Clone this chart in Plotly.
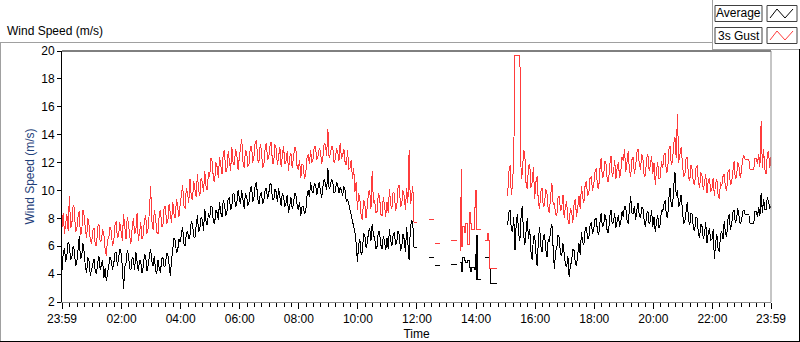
import pandas as pd
import plotly.graph_objects as go

# ---------------- data (2.5-minute samples from 23:59) ----------------
START = "2024-01-01 23:59"
STEP = "150s"

gust_main = [
    7.4, 8.4, 6.9, 7.8, 8.3, 7.1, 9.6, 7.3, 7.6, 8.9, 8.8, 7.0, 7.2, 8.1, 8.5, 6.8, 7.0, 8.6, 8.2, 7.2, 6.6, 8.0, 7.5, 6.4,            # 23:59
    6.2, 7.1, 7.3, 6.1, 6.0, 7.4, 7.6, 6.3, 6.4, 7.2, 6.9, 5.8, 5.3, 6.5, 6.6, 7.4, 7.1, 6.0, 6.3, 7.5, 7.8, 6.6, 6.8, 7.7,            # 00:59
    7.0, 6.4, 8.3, 7.2, 6.5, 8.1, 7.6, 6.7, 6.2, 7.3, 8.0, 6.9, 7.1, 8.4, 6.4, 7.0, 7.7, 6.5, 6.8, 7.9, 8.2, 6.9, 7.3, 8.5,            # 01:59
    10.3, 7.8, 7.2, 8.6, 8.1, 7.0, 6.9, 8.3, 8.6, 7.4, 7.5, 8.8, 8.9, 7.6, 7.8, 9.0, 8.4, 7.7, 9.2, 8.3, 8.0, 9.4, 8.8, 8.1,           # 02:59
    9.0, 9.9, 10.4, 8.9, 8.7, 10.2, 9.8, 9.1, 10.8, 9.6, 9.3, 10.7, 10.1, 9.5, 11.2, 10.0, 9.6, 10.9, 10.6, 9.9, 11.4, 10.3, 10.0, 11.3,  # 03:59
    11.0, 12.3, 12.1, 10.8, 10.6, 12.0, 11.7, 10.9, 12.4, 11.6, 11.2, 12.7, 12.9, 11.3, 11.5, 12.8, 12.2, 11.4, 13.1, 12.0, 11.8, 13.0, 12.6, 11.5,  # 04:59
    12.3, 13.0, 13.7, 12.1, 11.6, 12.9, 12.8, 11.7, 11.9, 13.1, 13.2, 12.0, 12.5, 13.5, 13.6, 12.2, 12.0, 13.3, 12.9, 11.6, 11.8, 13.0, 13.4, 12.2,  # 05:59
    12.4, 13.2, 13.5, 11.9, 12.0, 13.3, 13.0, 11.8, 12.6, 13.1, 11.7, 12.5, 13.2, 11.9, 12.1, 12.8, 11.4, 12.4, 12.7, 11.6, 12.2, 13.1, 13.0, 11.7,  # 06:59
    11.5, 12.2, 10.9, 11.9, 11.8, 10.8, 11.2, 12.3, 12.6, 11.9, 12.9, 12.0, 12.3, 13.2, 13.1, 12.2, 12.5, 13.0, 12.8, 11.9, 12.4, 13.4, 13.3, 12.5,  # 07:59
    14.4, 12.3, 12.6, 13.2, 13.1, 12.0, 12.2, 13.0, 12.8, 12.1, 13.4, 12.3, 12.5, 13.0, 12.0, 11.8, 12.9, 11.5, 11.6, 12.2, 10.8, 11.6, 9.9, 10.6,  # 08:59
    8.6, 9.8, 9.4, 8.2, 7.9, 9.3, 9.1, 8.0, 8.8, 9.9, 10.0, 8.7, 11.4, 9.1, 9.3, 8.4, 8.5, 9.8, 9.6, 8.3, 8.2, 9.5, 9.0, 8.1,          # 09:59
    9.2, 8.4, 10.1, 9.0, 8.7, 9.9, 9.8, 8.5, 8.9, 10.2, 10.4, 8.8, 9.0, 10.0, 9.6, 8.6, 10.2, 9.1, 12.9, 9.0, 9.5, 10.3, 7.7, 7.7,      # 10:59
    7.7, None, None, None, None, None, None, None, None, None, None, None,
    None, None, None, None, None, None, None, None, None, None, None, None,                                                        # 11:59
    None, None, None, None, None, None, None, None, None, None, None, None,
    None, None, None, None, None, None, None, None, None, None, None, None,                                                        # 12:59
    None, None, None, None, None, None, None, None, None, None, None, None,
    None, None, None, None, None, None, None, None, None, None, None, None,                                                        # 13:59
    None, None, 9.6, 11.3, 11.8, 9.7, 10.4, 12.2, 19.7, 19.7, 19.7, 19.7, 19.7, 10.8, 11.2, 12.9, 12.6, 10.5, 10.1, 11.8, 11.9, 10.2, 10.6, 11.7,  # 14:59
    9.4, 10.6, 11.0, 9.1, 8.7, 9.9, 10.2, 8.8, 9.0, 10.1, 9.8, 8.6, 8.4, 9.7, 10.5, 9.0, 9.1, 8.3, 8.2, 9.5, 9.6, 8.5, 8.8, 9.7,       # 15:59
    8.0, 8.9, 9.2, 7.9, 7.6, 8.7, 8.5, 7.7, 9.0, 9.4, 8.1, 8.8, 9.6, 8.7, 10.3, 9.5, 9.1, 10.4, 10.7, 9.6, 9.8, 10.9, 11.0, 10.0,      # 16:59
    10.4, 11.3, 11.6, 10.3, 10.1, 11.5, 12.3, 10.9, 11.0, 12.1, 11.9, 10.7, 10.6, 11.8, 12.5, 11.0, 11.3, 12.2, 10.8, 11.6, 12.0, 10.9, 11.4, 12.4,  # 17:59
    12.1, 13.0, 11.3, 12.0, 12.8, 11.4, 11.0, 12.2, 12.4, 11.2, 11.7, 12.7, 13.0, 11.9, 11.5, 12.6, 12.2, 11.0, 11.1, 12.3, 12.6, 11.4, 11.8, 12.5,  # 18:59
    11.2, 12.0, 10.4, 11.5, 12.0, 10.8, 10.9, 12.1, 11.6, 12.5, 12.7, 11.3, 11.4, 12.9, 13.2, 11.8, 12.1, 13.4, 13.8, 12.3, 15.5, 12.0, 12.6, 13.1,  # 19:59
    12.0, 11.0, 11.1, 12.3, 12.4, 10.9, 10.7, 11.8, 11.5, 10.5, 10.4, 11.6, 11.8, 10.6, 10.2, 11.3, 11.0, 10.0, 10.6, 11.2, 9.8, 10.7, 10.9, 9.9,  # 20:59
    10.1, 10.9, 9.6, 10.5, 10.8, 9.7, 9.4, 10.6, 10.3, 11.0, 11.2, 10.2, 10.0, 11.3, 11.5, 10.4, 10.6, 11.6, 12.1, 10.8, 11.0, 12.0, 11.7, 10.9,  # 21:59
    11.4, 12.3, 12.5, 12.2, 12.2, 12.2, 12.2, 11.5, 11.5, 11.5, 11.5, 12.3, 12.3, 11.9, 12.6, 11.7, 15.0, 11.6, 13.0, 11.5, 11.2, 12.6, 12.8, 11.6,  # 22:59
    12.4,                                                                                                                          # 23:59
]

avg_main = [
    4.3, 5.5, 5.9, 4.9, 5.4, 6.3, 6.1, 5.0, 5.2, 6.0, 5.7, 4.6, 4.8, 6.0, 6.7, 5.1, 5.3, 6.2, 5.6, 4.5, 4.1, 5.2, 4.9, 3.9,
    4.4, 4.9, 5.1, 4.2, 4.0, 4.8, 5.3, 4.3, 4.6, 5.0, 3.7, 4.4, 3.5, 4.1, 4.5, 5.2, 5.0, 4.3, 4.7, 5.5, 5.6, 4.6, 5.2, 5.8,
    5.5, 4.6, 2.9, 4.5, 4.8, 5.7, 5.4, 4.4, 4.3, 5.2, 5.1, 4.3, 5.6, 4.7, 4.2, 5.0, 4.9, 4.1, 4.5, 5.4, 5.3, 4.2, 4.6, 5.3,
    5.8, 4.9, 4.6, 5.3, 4.3, 4.0, 5.0, 4.4, 4.1, 5.1, 5.2, 4.5, 4.6, 5.5, 5.4, 4.7, 3.9, 5.0, 5.9, 6.6, 6.4, 5.5, 5.7, 6.5,
    6.3, 7.0, 7.4, 6.2, 6.0, 6.9, 7.1, 6.5, 6.8, 7.8, 7.6, 6.7, 6.6, 7.5, 8.2, 7.0, 7.3, 8.1, 7.9, 7.1, 8.7, 7.8, 7.5, 8.4,
    8.0, 8.9, 8.8, 7.7, 7.6, 8.6, 8.4, 7.9, 9.2, 8.4, 8.1, 9.3, 9.0, 8.2, 8.5, 9.4, 9.5, 8.6, 8.9, 9.8, 9.7, 8.8, 9.1, 10.0,
    9.4, 9.0, 10.0, 9.3, 8.7, 9.8, 9.6, 8.9, 9.2, 10.1, 10.3, 9.2, 9.5, 10.4, 10.6, 9.4, 9.0, 9.7, 9.9, 9.0, 9.3, 10.0, 10.2, 9.4,
    9.8, 10.5, 10.4, 9.4, 9.3, 10.1, 9.9, 9.2, 10.2, 9.5, 8.9, 9.8, 9.6, 8.8, 9.1, 9.7, 8.4, 8.9, 9.5, 8.7, 9.0, 9.8, 9.7, 9.0,
    8.6, 9.2, 8.2, 8.8, 8.9, 8.3, 8.5, 9.6, 10.0, 9.5, 10.6, 10.0, 9.8, 10.5, 10.4, 9.7, 10.1, 10.6, 9.9, 9.5, 10.3, 10.8, 10.5, 10.0,
    11.6, 10.1, 10.3, 10.8, 10.6, 9.8, 9.9, 10.6, 10.4, 9.8, 10.2, 10.0, 9.6, 10.3, 10.0, 9.2, 9.4, 9.0, 8.8, 8.3, 8.0, 7.5, 7.0, 6.2,
    4.9, 6.1, 6.5, 5.4, 5.6, 6.9, 6.8, 5.9, 6.2, 7.0, 7.3, 6.4, 7.6, 6.8, 6.6, 5.8, 6.0, 7.1, 7.0, 6.1, 5.8, 6.7, 6.4, 5.7,
    6.6, 5.8, 7.2, 6.4, 6.0, 6.8, 7.0, 6.1, 6.3, 7.1, 6.8, 5.7, 5.9, 6.9, 6.5, 5.6, 7.4, 6.2, 5.0, 7.3, 7.9, 7.6, 5.9, 5.9,
    5.9, None, None, None, None, None, None, None, None, None, None, None,
    None, None, None, None, None, None, None, None, None, None, None, None,
    None, None, None, None, None, None, None, None, None, None, None, None,
    None, None, None, None, None, None, None, None, None, None, None, None,
    None, None, None, None, None, None, None, None, None, None, None, None,
    None, None, None, None, None, None, None, None, None, None, None, None,
    None, None, 7.5, 8.4, 8.6, 7.2, 7.0, 8.1, 5.7, 7.6, 8.3, 6.9, 6.4, 8.2, 8.9, 6.8, 6.1, 7.4, 8.0, 6.5, 7.2, 5.6, 5.0, 6.7,
    6.8, 5.5, 4.6, 6.4, 7.4, 6.0, 5.6, 6.7, 6.9, 5.8, 5.2, 6.5, 6.3, 7.2, 7.6, 5.9, 4.4, 5.6, 5.9, 6.8, 6.6, 5.4, 5.3, 6.2,
    5.4, 4.7, 4.5, 5.3, 3.8, 4.6, 4.9, 5.8, 5.7, 4.8, 4.6, 5.6, 6.2, 5.4, 7.0, 6.3, 6.1, 7.2, 7.4, 6.5, 6.6, 7.5, 7.7, 6.9,
    7.2, 7.9, 8.0, 7.1, 6.8, 7.7, 8.4, 7.4, 7.5, 8.3, 7.9, 7.0, 7.0, 8.1, 8.6, 7.6, 7.7, 8.4, 7.3, 7.8, 8.2, 7.4, 7.8, 8.5,
    8.1, 8.9, 8.8, 7.9, 7.6, 8.7, 9.6, 8.4, 8.3, 8.9, 7.9, 8.6, 9.1, 8.2, 8.0, 8.8, 8.7, 7.8, 7.4, 8.3, 8.5, 7.6, 7.8, 8.6,
    7.4, 8.1, 7.0, 7.8, 8.2, 7.3, 7.6, 8.6, 8.5, 9.0, 9.3, 8.2, 8.0, 9.4, 10.2, 8.9, 8.8, 10.3, 11.3, 9.6, 10.0, 8.8, 9.1, 9.7,
    8.6, 7.6, 7.8, 8.8, 9.2, 7.9, 7.5, 8.4, 8.3, 7.2, 7.1, 8.1, 8.0, 6.9, 6.6, 7.6, 7.4, 6.5, 6.9, 7.7, 6.2, 6.9, 7.3, 6.4,
    6.5, 7.2, 5.1, 6.2, 6.9, 5.8, 5.6, 6.8, 7.1, 6.5, 7.8, 6.9, 6.7, 7.9, 8.3, 7.2, 7.5, 8.4, 8.6, 7.7, 7.9, 8.7, 8.2, 7.6,
    7.8, 8.5, 8.6, 8.3, 8.3, 8.3, 8.3, 7.6, 7.6, 7.6, 7.6, 8.5, 8.5, 8.1, 8.8, 8.2, 9.8, 8.4, 9.4, 8.6, 8.6, 9.5, 9.2, 8.7,
    8.9,
]

# sparse, step-like readings during the outage (None breaks the line)
gust_gap_time = ["12:24", "12:34", "12:35", "12:37", "12:47", "12:48",
                 "13:09", "13:21", "13:22",
                 "13:27", "13:29", "13:30", "13:31", "13:33", "13:37", "13:39", "13:42",
                 "13:46", "13:48", "13:50", "13:56", "13:58", "14:00", "14:11", "14:12",
                 "14:18", "14:24", "14:25", "14:27", "14:42"]
gust_gap = [7.9, 7.9, None, 6.2, 6.2, None,
            6.4, 6.4, None,
            5.7, 9.5, 11.5, 6.0, 7.4, 7.0, 7.6, 6.1,
            8.4, 7.6, 7.2, 8.8, 10.0, 7.2, 7.2, None,
            6.4, 6.9, 6.4, 4.4, 4.4]

avg_gap_time = ["12:24", "12:34", "12:35", "12:37", "12:47", "12:48",
                "13:09", "13:21", "13:22",
                "13:27", "13:30", "13:33", "13:37", "13:39", "13:42", "13:46", "13:48",
                "13:51", "13:56", "13:58", "14:00", "14:01", "14:02", "14:11", "14:12",
                "14:18", "14:27", "14:30", "14:42"]
avg_gap = [5.2, 5.2, None, 4.65, 4.65, None,
           4.7, 4.7, None,
           4.8, 4.2, 5.2, 5.0, 4.8, 5.0, 4.5, 4.2,
           4.5, 4.3, 5.4, 3.6, 6.8, 3.6, 3.6, None,
           5.2, 4.4, 3.3, 3.3]

tick_labels = ["23:59", "02:00", "04:00", "06:00", "08:00", "10:00", "12:00",
               "14:00", "16:00", "18:00", "20:00", "22:00", "23:59"]
tick_times = ["2024-01-01 23:59", "2024-01-02 02:00", "2024-01-02 04:00",
              "2024-01-02 06:00", "2024-01-02 08:00", "2024-01-02 10:00",
              "2024-01-02 12:00", "2024-01-02 14:00", "2024-01-02 16:00",
              "2024-01-02 18:00", "2024-01-02 20:00", "2024-01-02 22:00",
              "2024-01-02 23:59"]
y_ticks = [2, 4, 6, 8, 10, 12, 14, 16, 18, 20]

# ---------------- figure ----------------
RED = "#ff3c3c"
times = pd.date_range(START, periods=len(gust_main), freq=STEP)
gap_day = "2024-01-02 "

fig = go.Figure()
fig.add_trace(go.Scatter(x=times, y=avg_main, mode="lines",
                         line=dict(color="black", width=1), connectgaps=False, name="Average"))
fig.add_trace(go.Scatter(x=[gap_day + t for t in avg_gap_time], y=avg_gap, mode="lines",
                         line=dict(color="black", width=1, shape="hv"), connectgaps=False,
                         name="Average"))
fig.add_trace(go.Scatter(x=times, y=gust_main, mode="lines",
                         line=dict(color=RED, width=1), connectgaps=False, name="3s Gust"))
fig.add_trace(go.Scatter(x=[gap_day + t for t in gust_gap_time], y=gust_gap, mode="lines",
                         line=dict(color=RED, width=1, shape="hv"), connectgaps=False,
                         name="3s Gust"))

W, H = 800, 342
L, R, T, B = 62, 771, 51, 302


def px(x):
    return (x - L) / (R - L)


def py(y):
    return (B - y) / (B - T)


def line(x0, y0, x1, y1, color, width=1):
    return dict(type="line", xref="paper", yref="paper",
                x0=px(x0), y0=py(y0), x1=px(x1), y1=py(y1),
                line=dict(color=color, width=width))


def rect(x0, y0, x1, y1, color):
    return dict(type="rect", xref="paper", yref="paper",
                x0=px(x0), y0=py(y0), x1=px(x1), y1=py(y1),
                line=dict(color=color, width=1), fillcolor="white")


def zigzag(pts, color):
    d = "M " + " L ".join(f"{px(a)},{py(b)}" for a, b in pts)
    return dict(type="path", xref="paper", yref="paper", path=d,
                line=dict(color=color, width=1))


GRAY = "#a0a0a0"
shapes = [
    # plot frame: top black, right gray
    line(L, T, R, T, "black"),
    line(R, T, R, B, "#8c8c8c"),
    # outer frame
    line(0.5, 42.5, 0.5, 341, GRAY),
    line(0, 42.5, 712, 42.5, GRAY),
    line(712.5, 0, 712.5, 49.5, GRAY),
    line(712, 49.5, 799, 49.5, GRAY),
    line(799.5, 49, 799.5, 341.5, "black"),
    line(0, 341.5, 800, 341.5, "black"),
    # legend boxes
    rect(715, 5.5, 762, 21.5, "#404040"),
    rect(767, 5.5, 797, 21.5, "#404040"),
    rect(715, 27.5, 762, 43.5, "#404040"),
    rect(767, 27.5, 797, 43.5, "#404040"),
    zigzag([(770, 18), (777, 9), (785, 18), (793, 9)], "black"),
    zigzag([(770, 40), (777, 31), (785, 40), (793, 31)], RED),
]

annotations = [
    dict(text="Wind Speed (m/s)", xref="paper", yref="paper", x=px(5), y=py(31),
         xanchor="left", yanchor="middle", showarrow=False,
         font=dict(size=12, color="black")),
    dict(text="Average", xref="paper", yref="paper", x=px(738.5), y=py(13.5),
         xanchor="center", yanchor="middle", showarrow=False,
         font=dict(size=12, color="black")),
    dict(text="3s Gust", xref="paper", yref="paper", x=px(738.5), y=py(35.5),
         xanchor="center", yanchor="middle", showarrow=False,
         font=dict(size=12, color="black")),
]

fig.update_layout(
    width=W, height=H,
    margin=dict(l=L, r=W - R, t=T, b=H - B, pad=0, autoexpand=False),
    paper_bgcolor="white", plot_bgcolor="white",
    showlegend=False,
    font=dict(family="Liberation Sans, Arial, sans-serif", size=12, color="black"),
    shapes=shapes,
    annotations=annotations,
    xaxis=dict(
        type="date", automargin=False,
        range=[tick_times[0], tick_times[-1]],
        tickmode="array", tickvals=tick_times, ticktext=tick_labels,
        ticks="outside", ticklen=6, tickcolor="black", tickwidth=1,
        showline=True, linecolor="#8c8c8c", linewidth=1,
        showgrid=False, zeroline=False,
        minor=dict(ticks="outside", ticklen=4, tickcolor="black", tickwidth=1,
                   dtick=15 * 60 * 1000, tick0="2024-01-02 00:00", showgrid=False),
        title=dict(text="Time", standoff=4, font=dict(size=12, color="black")),
        tickfont=dict(size=12, color="black"),
    ),
    yaxis=dict(
        automargin=False,
        range=[2, 20], tickmode="array", tickvals=y_ticks,
        ticks="outside", ticklen=4, tickcolor="black", tickwidth=1,
        showline=True, linecolor="black", linewidth=1,
        showgrid=False, zeroline=False,
        title=dict(text="Wind Speed (m/s)", standoff=4,
                   font=dict(size=12, color="#1f3f7a")),
        tickfont=dict(size=12, color="black"),
    ),
)

fig.write_html(
    "out.html",
    config={"displayModeBar": False, "staticPlot": True},
    post_script=(
        "document.body.style.margin='0px';"
        "document.body.style.overflow='hidden';"
        "document.querySelectorAll('.scatterlayer path.js-line').forEach(function(p){"
        "p.style.shapeRendering='crispEdges';});"
    ),
)
